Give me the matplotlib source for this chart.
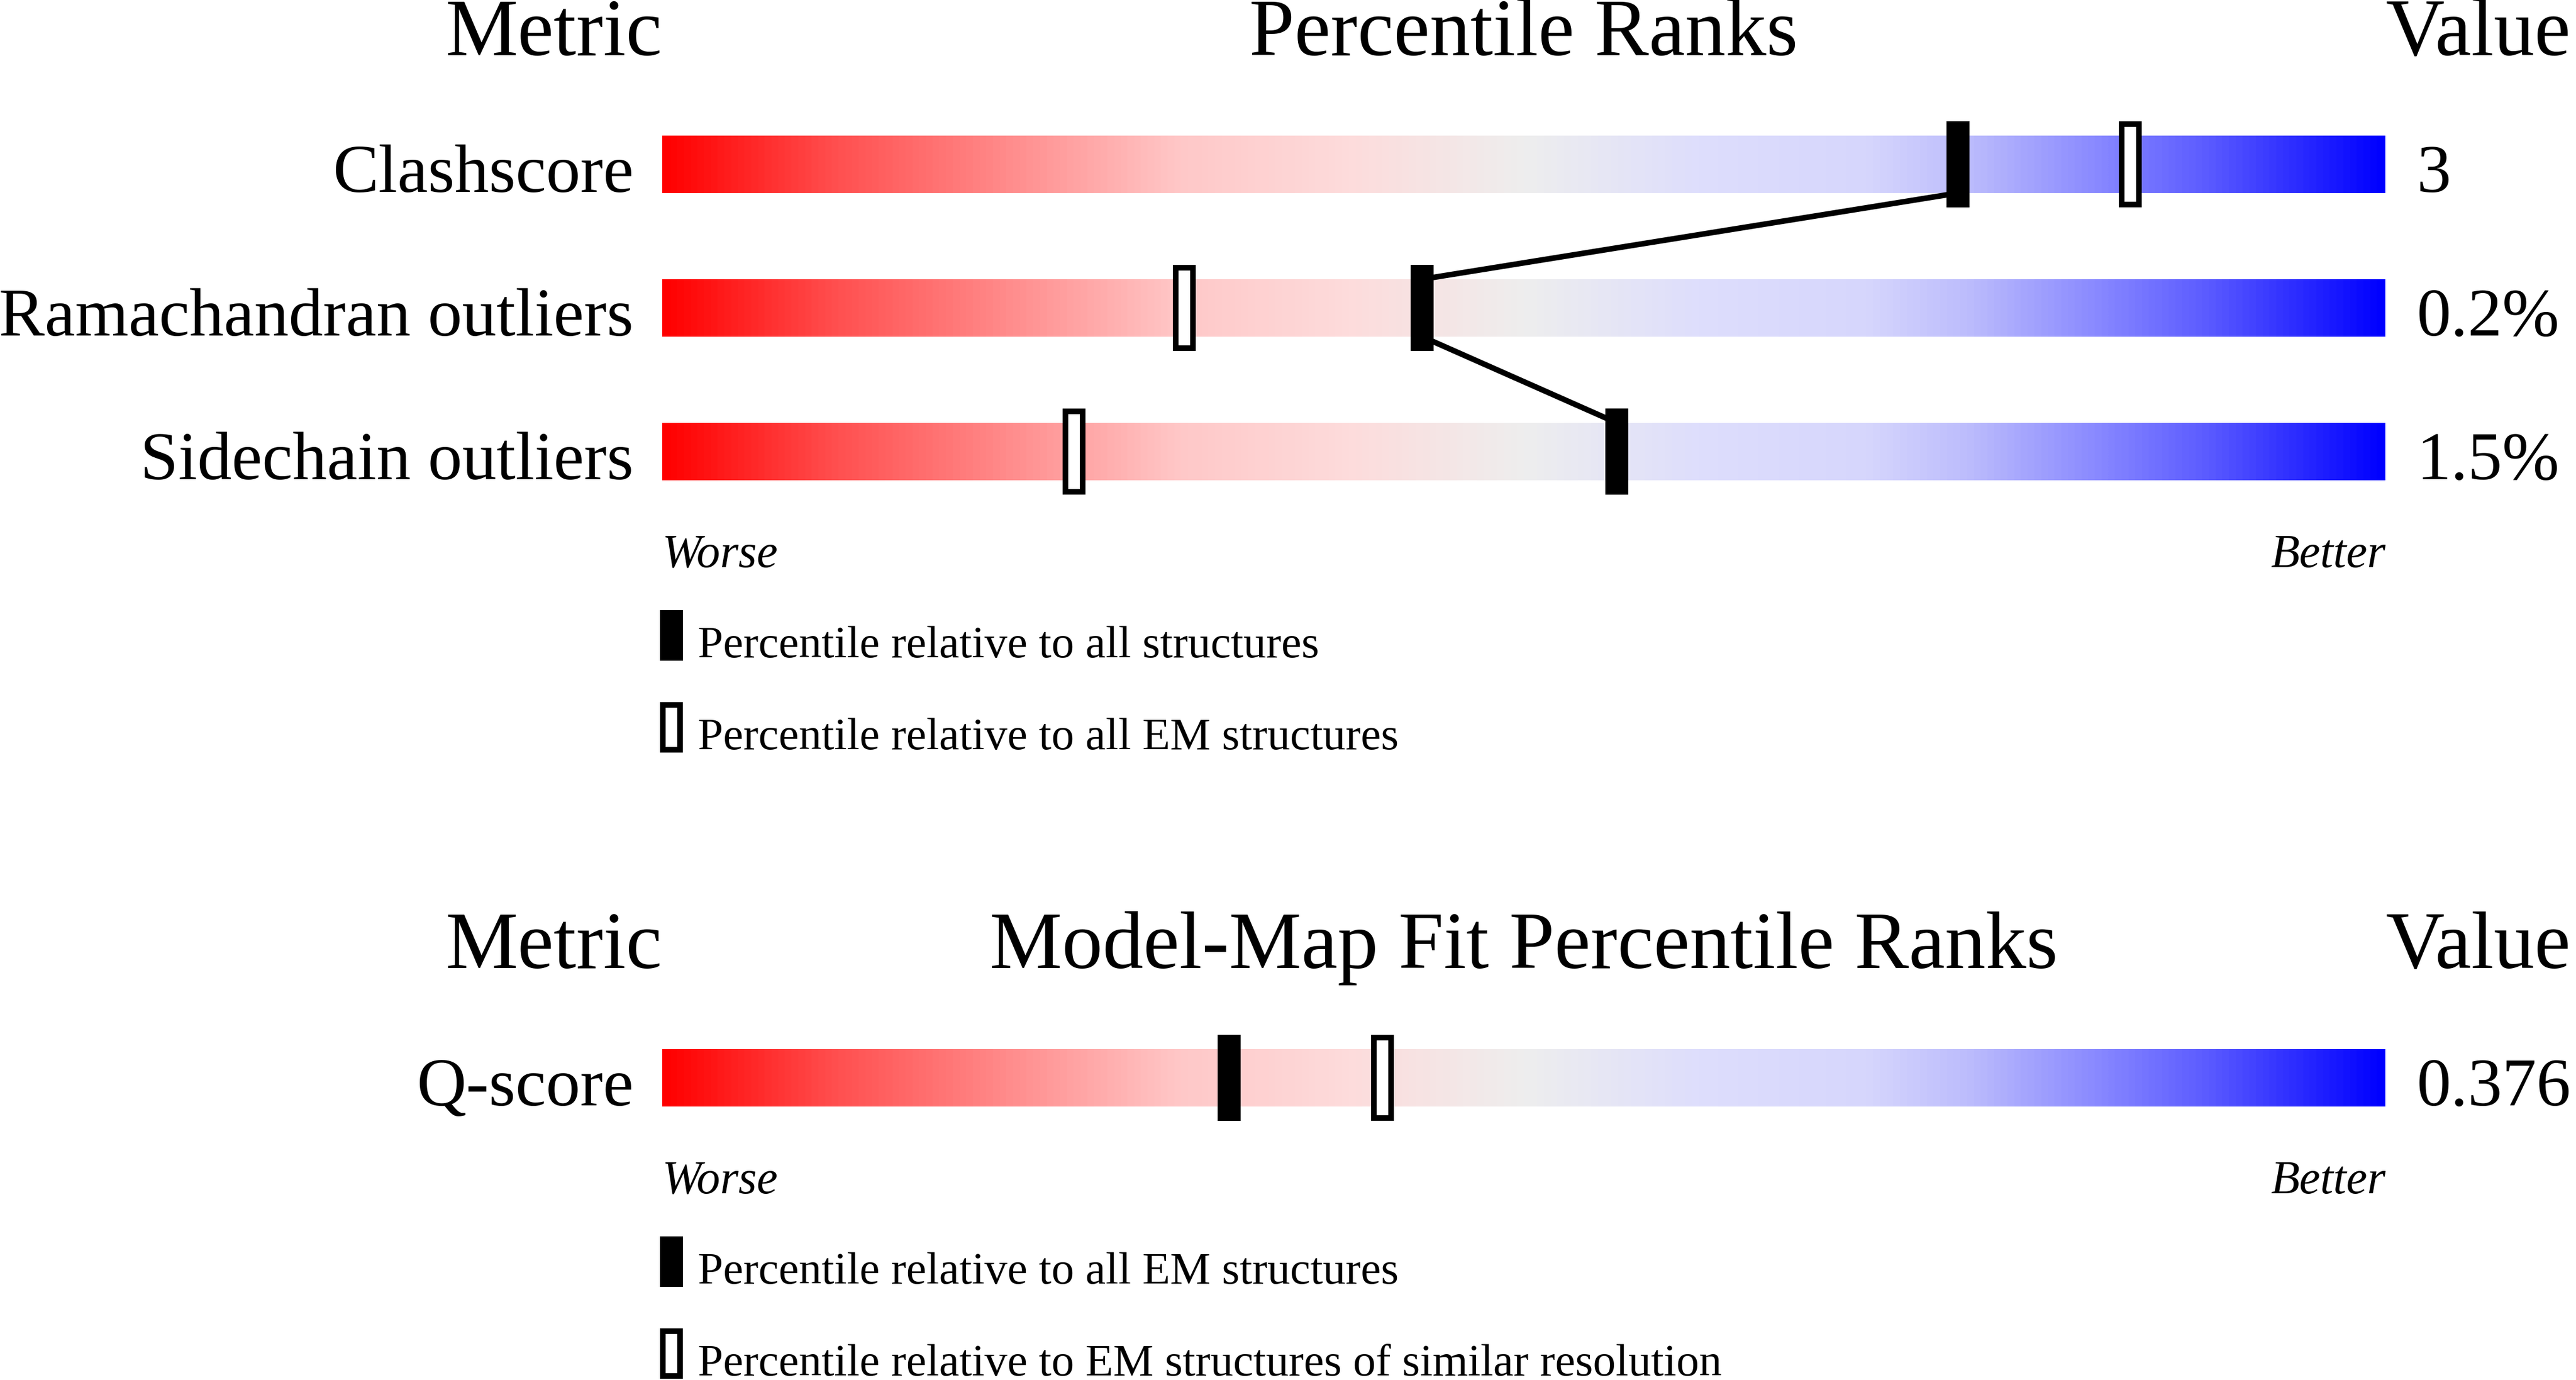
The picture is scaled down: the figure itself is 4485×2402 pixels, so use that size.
import matplotlib
matplotlib.use("Agg")
import numpy as np
import matplotlib.pyplot as plt
from matplotlib.colors import LinearSegmentedColormap
from matplotlib.patches import Rectangle

# data
geo_metrics = ["Clashscore", "Ramachandran outliers", "Sidechain outliers"]
geo_values = ["3", "0.2%", "1.5%"]
geo_pct_all = [75.2, 44.1, 55.4]      # filled markers
geo_pct_em = [85.2, 30.3, 23.9]       # open markers
geo_legend = ["Percentile relative to all structures",
              "Percentile relative to all EM structures"]

fit_metrics = ["Q-score"]
fit_values = ["0.376"]
fit_pct_all = [32.9]
fit_pct_res = [41.8]
fit_legend = ["Percentile relative to all EM structures",
              "Percentile relative to EM structures of similar resolution"]

W, H = 4485, 2402
X0, X1 = 1153, 4153          # slider left / right edge in pixels
PX = (X1 - X0) / 100.0       # pixels per percentile
BAR_H = 100
MK_W, MK_H = 40, 150
LW = 7.0                      # points

plt.rcParams["font.family"] = ["Liberation Serif", "DejaVu Serif"]

stops = [(0.0, (255, 0, 0)), (0.1, (255, 80, 80)), (0.2, (255, 140, 140)),
         (0.3, (255, 200, 200)), (0.4, (253, 220, 220)), (0.5, (238, 238, 238)),
         (0.6, (222, 222, 252)), (0.7, (214, 214, 252)), (0.76, (188, 188, 252)),
         (0.83, (140, 140, 255)), (0.9, (90, 90, 255)), (1.0, (0, 0, 255))]
cmap = LinearSegmentedColormap.from_list(
    "slider", [(p, tuple(c / 255 for c in rgb)) for p, rgb in stops])


def px(x):
    return (x - X0) / PX


fig = plt.figure(figsize=(W / 100, H / 100), dpi=100)
ax = fig.add_axes([0, 0, 1, 1])
ax.set_xlim(px(0), px(W))
ax.set_ylim(H, 0)
ax.axis("off")

grad = np.linspace(0, 1, 512).reshape(1, -1)


def marker(ax, pct, ytop, filled, h=MK_H):
    half = MK_W / PX / 2
    if filled:
        r = Rectangle((pct - half, ytop), 2 * half, h, facecolor="black",
                      edgecolor="none", zorder=5)
    else:
        bw = 10 / PX / 2
        r = Rectangle((pct - half + bw, ytop + 5), 2 * half - 2 * bw, h - 10,
                      facecolor="white", edgecolor="black", lw=LW, zorder=5)
    ax.add_patch(r)


def section(ax, title, metrics, values, pct_a, pct_b, legend, head_y, bar_tops):
    ax.text(px(X0), head_y, "Metric", ha="right", va="baseline", fontsize=102)
    ax.text(50, head_y, title, ha="center", va="baseline", fontsize=102)
    ax.text(px(X1), head_y, "Value", ha="left", va="baseline", fontsize=102)
    for name, val, a, b, top in zip(metrics, values, pct_a, pct_b, bar_tops):
        ax.imshow(grad, cmap=cmap, aspect="auto", extent=(0, 100, top + BAR_H, top),
                  interpolation="bilinear", zorder=1)
        ax.text(px(X0 - 50), top + BAR_H - 2, name, ha="right", va="baseline", fontsize=86)
        ax.text(px(X1 + 55), top + BAR_H - 2, val, ha="left", va="baseline", fontsize=86)
        marker(ax, a, top - 25, True)
        marker(ax, b, top - 25, False)
    for i in range(len(bar_tops) - 1):
        ax.plot([pct_a[i], pct_a[i + 1]], [bar_tops[i] + BAR_H, bar_tops[i + 1]],
                color="black", lw=LW, solid_capstyle="butt", zorder=4)
    y = bar_tops[-1] + BAR_H + 151
    ax.text(0, y, "Worse", ha="left", va="baseline", fontsize=59, style="italic")
    ax.text(100, y, "Better", ha="right", va="baseline", fontsize=59, style="italic")
    for k, lab in enumerate(legend):
        ytop = y + 75 + 160 * k
        half = MK_W / PX / 2
        marker(ax, px(1149) + half, ytop, k == 0, h=88)
        ax.text(px(1215), ytop + 82, lab, ha="left", va="baseline", fontsize=57)


section(ax, "Percentile Ranks", geo_metrics, geo_values, geo_pct_all, geo_pct_em,
        geo_legend, 96, [236, 486, 736])
section(ax, "Model-Map Fit Percentile Ranks", fit_metrics, fit_values, fit_pct_all,
        fit_pct_res, fit_legend, 1685, [1826])

fig.savefig("out.png", dpi=100, facecolor="white")
